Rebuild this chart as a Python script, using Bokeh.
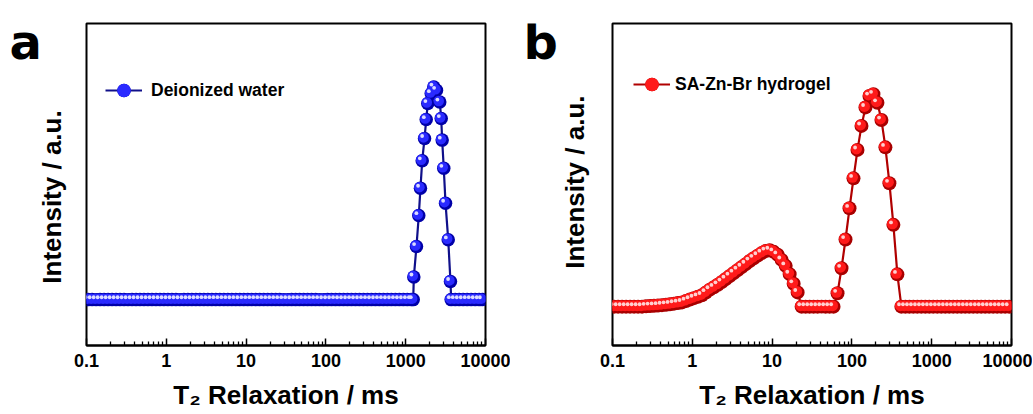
import numpy as np
from bokeh.plotting import figure
from bokeh.layouts import row
from bokeh.models import Range1d, FixedTicker, Label, Legend, LegendItem
from bokeh.embed import file_html
from bokeh.resources import INLINE

# ---------------- data ----------------
X_MAJOR = [0.1, 1, 10, 100, 1000, 10000]
X_LABELS = ["0.1", "1", "10", "100", "1000", "10000"]
X_MINOR_MANTISSA = [2, 3, 4, 5, 6, 7, 8, 9]

# panel a: deionized water  (x given as log10(T2 / ms))
A_LOG = [-0.98, -0.93, -0.88, -0.83, -0.78, -0.73, -0.68, -0.63, -0.58, -0.53,
         -0.48, -0.43, -0.38, -0.33, -0.28, -0.23, -0.18, -0.13, -0.08, -0.03,
         0.02, 0.07, 0.12, 0.17, 0.22, 0.27, 0.32, 0.37, 0.42, 0.47,
         0.52, 0.57, 0.62, 0.67, 0.72, 0.77, 0.82, 0.87, 0.92, 0.97,
         1.02, 1.07, 1.12, 1.17, 1.22, 1.27, 1.32, 1.37, 1.42, 1.47,
         1.52, 1.57, 1.62, 1.67, 1.72, 1.77, 1.82, 1.87, 1.92, 1.97,
         2.02, 2.07, 2.12, 2.17, 2.22, 2.27, 2.32, 2.37, 2.42, 2.47,
         2.52, 2.57, 2.62, 2.67, 2.72, 2.77, 2.82, 2.87, 2.92, 2.97,
         3.02, 3.07,
         3.094, 3.102, 3.135, 3.164, 3.185, 3.207, 3.236, 3.257, 3.277, 3.320,
         3.352, 3.386, 3.427, 3.445, 3.457, 3.477, 3.499, 3.533, 3.561, 3.570,
         3.62, 3.67, 3.72, 3.77, 3.82, 3.87, 3.92, 3.96]
A_INT = [0, 0, 0, 0, 0, 0, 0, 0, 0, 0,
         0, 0, 0, 0, 0, 0, 0, 0, 0, 0,
         0, 0, 0, 0, 0, 0, 0, 0, 0, 0,
         0, 0, 0, 0, 0, 0, 0, 0, 0, 0,
         0, 0, 0, 0, 0, 0, 0, 0, 0, 0,
         0, 0, 0, 0, 0, 0, 0, 0, 0, 0,
         0, 0, 0, 0, 0, 0, 0, 0, 0, 0,
         0, 0, 0, 0, 0, 0, 0, 0, 0, 0,
         0, 0,
         0, 10.6, 24.8, 39.2, 52.0, 64.8, 75.2, 84.0, 91.5, 96.1,
         99.2, 97.7, 92.2, 84.5, 74.4, 61.3, 45.0, 27.9, 8.5, 0,
         0, 0, 0, 0, 0, 0, 0, 0]

# panel b: SA-Zn-Br hydrogel
B_LOG = [-0.98, -0.93, -0.88, -0.83, -0.78, -0.73, -0.68, -0.63, -0.58, -0.53,
         -0.48, -0.43, -0.38, -0.33, -0.28, -0.23, -0.18, -0.13, -0.08, -0.03,
         0.02, 0.07, 0.12, 0.17, 0.22, 0.27, 0.32, 0.37, 0.42, 0.47,
         0.52, 0.57, 0.62, 0.67, 0.72, 0.77, 0.82, 0.87, 0.92, 0.97,
         1.02, 1.07, 1.12, 1.17, 1.22, 1.27, 1.32, 1.37, 1.42, 1.47,
         1.52, 1.57, 1.62, 1.67, 1.72, 1.77, 1.82, 1.87, 1.92, 1.97,
         2.02, 2.07, 2.12, 2.17, 2.22, 2.27, 2.32, 2.37, 2.42, 2.47,
         2.52, 2.57, 2.62, 2.67, 2.72, 2.77, 2.82, 2.87, 2.92, 2.97,
         3.02, 3.07, 3.12, 3.17, 3.22, 3.27, 3.32, 3.37, 3.42, 3.47,
         3.52, 3.57, 3.62, 3.67, 3.72, 3.77, 3.82, 3.87, 3.92, 3.97]
B_INT = [0, 0, 0, 0, 0, 0, 0, 0, 0.2, 0.3,
         0.4, 0.5, 0.7, 0.9, 1.1, 1.4, 1.7, 2.0, 2.6, 3.3,
         4.0, 4.6, 5.3, 6.6, 8.0, 9.1, 10.3, 11.6, 13.0, 14.4,
         15.8, 17.2, 18.6, 20.0, 21.5, 22.8, 24.0, 25.2, 26.2, 26.6,
         25.8, 24.4, 22.0, 19.2, 15.3, 10.8, 6.7, 0, 0, 0,
         0, 0, 0, 0, 0, 0, 6.3, 18.1, 31.6, 46.3,
         60.4, 73.8, 85.1, 93.8, 99.2, 100.0, 96.0, 87.9, 75.0, 58.1,
         38.5, 15.2, 0, 0, 0, 0, 0, 0, 0, 0,
         0, 0, 0, 0, 0, 0, 0, 0, 0, 0,
         0, 0, 0, 0, 0, 0, 0, 0, 0, 0]

A_LABEL = "Deionized water"
B_LABEL = "SA-Zn-Br hydrogel"
Y_TITLE = "Intensity / a.u."
X_TITLE = "T\u2082 Relaxation / ms"
LETTERS = ["a", "b"]

# ---------------- drawing ----------------
FW, FH = 399, 323
TOP, BOTTOM = 23, 66
H = TOP + FH + BOTTOM
FONT = "Liberation Sans"


def side(width, letter, letter_x, letter_anchor, ylab_x, ylab_anchor):
    """Narrow figure holding the panel letter and the rotated y title (anchors measured from top)."""
    s = figure(width=width, height=H, x_range=Range1d(0, width), y_range=Range1d(0, H),
               min_border=0, min_border_left=0, min_border_right=0, min_border_top=0,
               min_border_bottom=0, x_axis_location=None, y_axis_location=None, title=None,
               output_backend="svg", toolbar_location=None, outline_line_color=None,
               background_fill_color="white", border_fill_color="white")
    s.grid.visible = False
    s.add_layout(Label(x=letter_x, y=H - letter_anchor, text=letter, text_font="DejaVu Sans",
                       text_font_style="bold", text_font_size="48px", text_color="black",
                       text_baseline="alphabetic", text_align="left"))
    s.add_layout(Label(x=ylab_x, y=H - ylab_anchor, text=Y_TITLE, angle=np.pi / 2,
                       text_font=FONT, text_font_style="bold", text_font_size="26px",
                       text_color="black", text_align="center", text_baseline="middle"))
    return s


def panel(log_x, inten, ylo, yhi, colors, line_color, label, size,
          border_left, border_right, leg_loc, glyph_w, leg_standoff):
    x = 10 ** np.asarray(log_x, dtype=float)
    y = np.asarray(inten, dtype=float)
    p = figure(x_axis_type="log", x_range=Range1d(0.1, 10000), y_range=Range1d(ylo, yhi),
               width=border_left + FW + border_right, height=H, title=None,
               min_border_left=border_left, min_border_right=border_right,
               min_border_top=TOP, min_border_bottom=BOTTOM,
               output_backend="svg", toolbar_location=None, background_fill_color="white",
               border_fill_color="white", y_axis_location=None)
    p.xgrid.visible = False
    p.ygrid.visible = False
    p.outline_line_color = "black"
    p.outline_line_width = 2
    p.outline_line_alpha = 1

    minor = [m * d for d in X_MAJOR[:-1] for m in X_MINOR_MANTISSA]
    xa = p.xaxis[0]
    xa.ticker = FixedTicker(ticks=X_MAJOR, minor_ticks=minor)
    xa.major_label_overrides = {v: s for v, s in zip(X_MAJOR, X_LABELS)}
    xa.major_tick_in = 7
    xa.major_tick_out = 0
    xa.minor_tick_in = 4
    xa.minor_tick_out = 0
    xa.major_tick_line_width = 1.5
    xa.minor_tick_line_width = 1.3
    xa.major_tick_line_color = "black"
    xa.minor_tick_line_color = "black"
    xa.axis_line_color = "black"
    xa.axis_line_width = 2
    xa.major_label_text_font = FONT
    xa.major_label_text_font_style = "bold"
    xa.major_label_text_font_size = "18px"
    xa.major_label_text_color = "black"
    xa.major_label_standoff = 8
    xa.axis_label = X_TITLE
    xa.axis_label_text_font = FONT
    xa.axis_label_text_font_style = "bold"
    xa.axis_label_text_font_size = "26px"
    xa.axis_label_text_color = "black"
    xa.axis_label_standoff = 10

    ppd = FW / 5.0
    ppu = FH / (yhi - ylo)
    ln = p.line(x, y, line_color=line_color, line_width=2.2)
    base = p.scatter(x, y, size=size, fill_color=colors[0], line_color=None)
    mid = p.scatter(x * 10 ** (-1.0 / ppd), y + 1.0 / ppu, size=size - 3,
                    fill_color=colors[1], line_color=None)
    p.scatter(x * 10 ** (-2.4 / ppd), y + 2.4 / ppu, size=3.8,
              fill_color=colors[2], line_color=None)

    leg = Legend(items=[LegendItem(label=label, renderers=[ln, base, mid])],
                 location=leg_loc, background_fill_alpha=0, border_line_color=None,
                 padding=0, margin=0, glyph_width=glyph_w, glyph_height=34,
                 label_standoff=leg_standoff, label_text_font=FONT,
                 label_text_font_style="bold", label_text_font_size="17.5px",
                 label_text_color="black")
    p.add_layout(leg)
    return p


sa = side(70, LETTERS[0], 9, 24, 51, 222)
pa = panel(A_LOG, A_INT, -21.4, 128.8, ("#0000a8", "#2a2aff", "#dcdcff"), "#10108a",
           A_LABEL, 13.5, 16, 25, (19, 238), 37, 9)
sb = side(86, LETTERS[1], 13, 24, 64, 203)
pb = panel(B_LOG, B_INT, -18.3, 133.3, ("#a80000", "#ff1a1a", "#ffd0d0"), "#b00000",
           B_LABEL, 14, 16, 21, (21, 244), 37, 5)

layout = row(sa, pa, sb, pb)
open("out.html", "w").write(file_html(layout, INLINE))
